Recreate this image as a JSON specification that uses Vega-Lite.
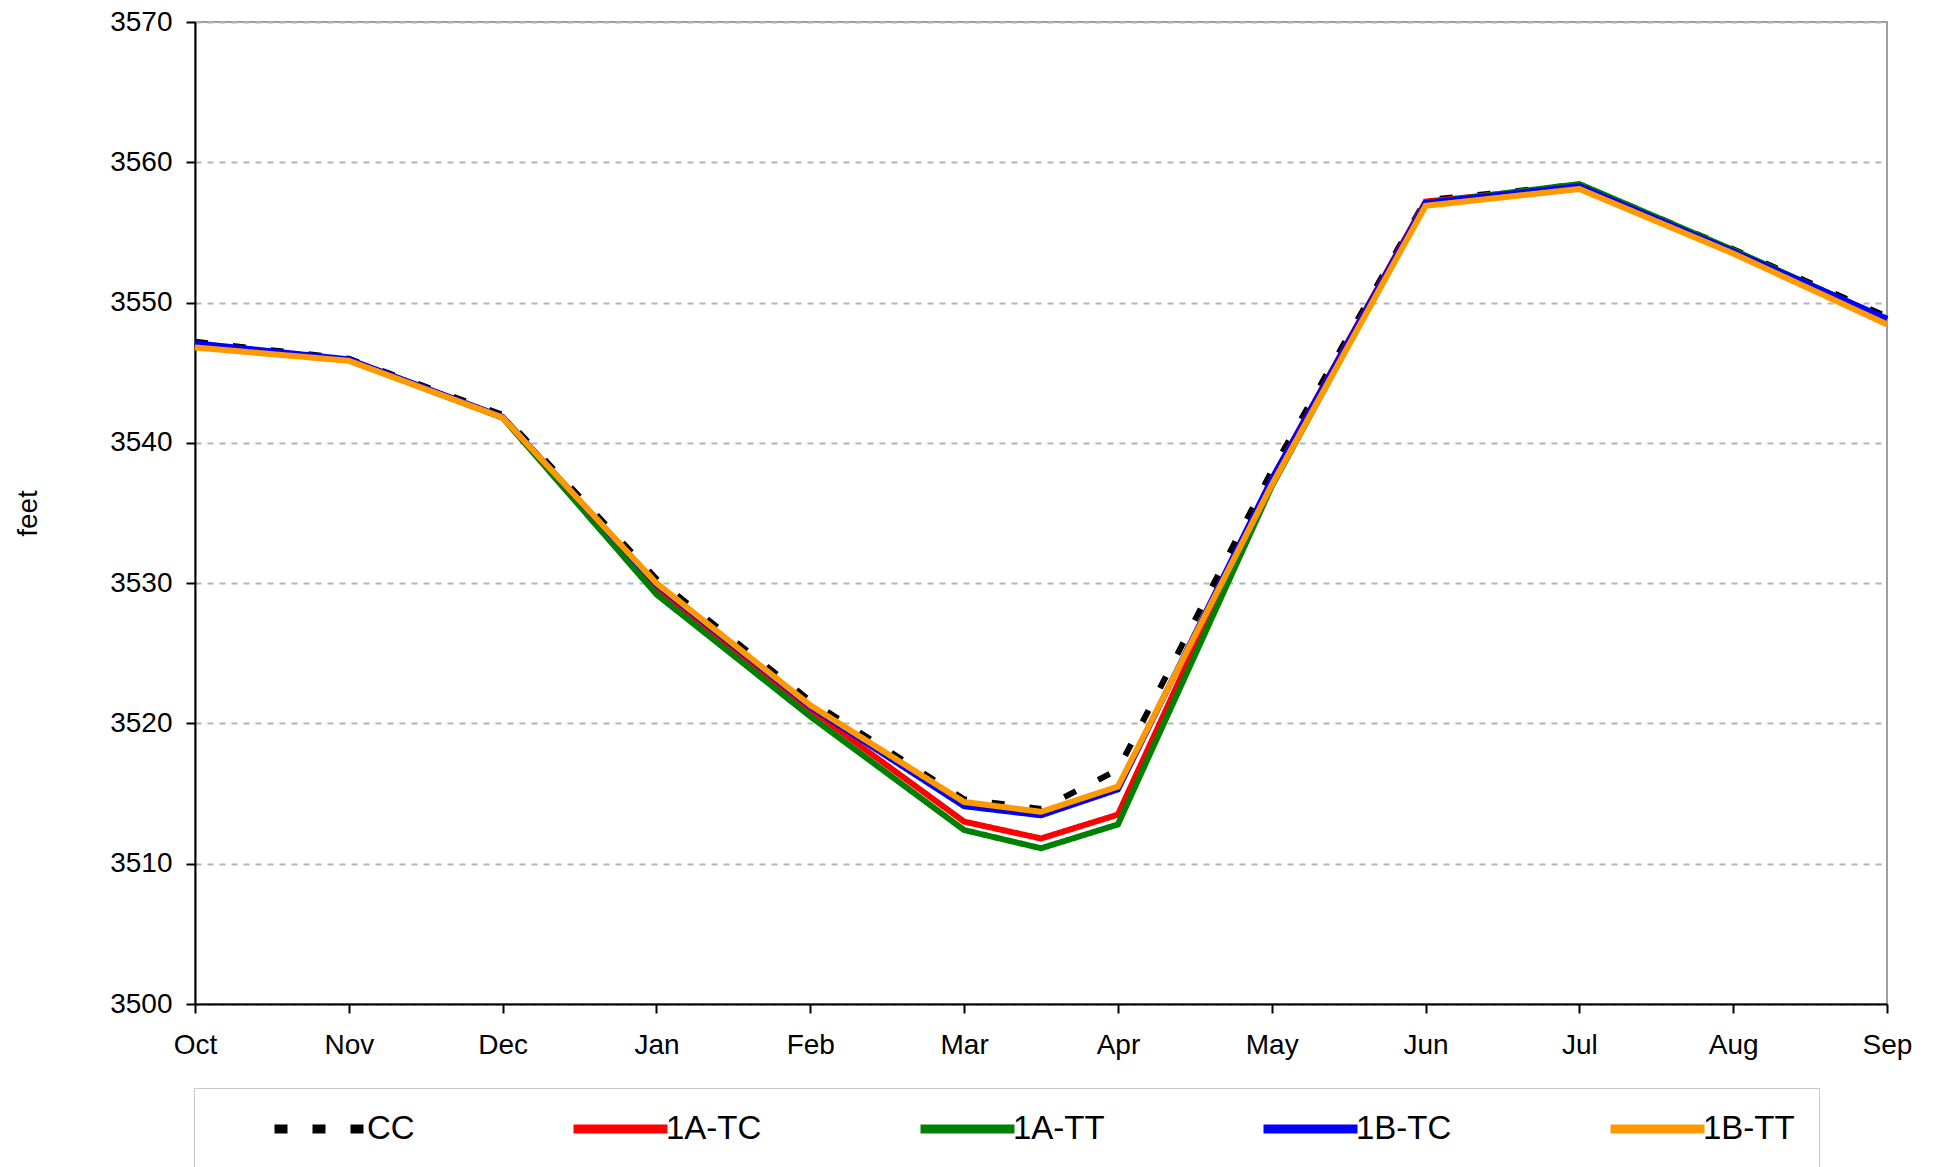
{
  "$schema": "https://vega.github.io/schema/vega-lite/v6.json",
  "width": 1692,
  "height": 982,
  "autosize": {"type": "none"},
  "padding": {"left": 195, "top": 22, "right": 51, "bottom": 163},
  "background": "white",
  "config": {
    "font": "Liberation Sans",
    "view": {"stroke": "#a0a0a0", "strokeWidth": 2}
  },
  "data": {
    "values": [
      {"m": 0, "series": "CC", "feet": 3547.2},
      {"m": 1, "series": "CC", "feet": 3546.0},
      {"m": 2, "series": "CC", "feet": 3542.0},
      {"m": 3, "series": "CC", "feet": 3530.3},
      {"m": 4, "series": "CC", "feet": 3521.6},
      {"m": 5, "series": "CC", "feet": 3514.6},
      {"m": 5.5, "series": "CC", "feet": 3513.9},
      {"m": 6, "series": "CC", "feet": 3516.7},
      {"m": 7, "series": "CC", "feet": 3538.0},
      {"m": 8, "series": "CC", "feet": 3557.3},
      {"m": 9, "series": "CC", "feet": 3558.4},
      {"m": 10, "series": "CC", "feet": 3553.8},
      {"m": 11, "series": "CC", "feet": 3549.0},
      {"m": 0, "series": "1A-TC", "feet": 3546.9},
      {"m": 1, "series": "1A-TC", "feet": 3545.9},
      {"m": 2, "series": "1A-TC", "feet": 3541.8},
      {"m": 3, "series": "1A-TC", "feet": 3529.6},
      {"m": 4, "series": "1A-TC", "feet": 3521.0},
      {"m": 5, "series": "1A-TC", "feet": 3513.0},
      {"m": 5.5, "series": "1A-TC", "feet": 3511.8},
      {"m": 6, "series": "1A-TC", "feet": 3513.5},
      {"m": 7, "series": "1A-TC", "feet": 3537.4},
      {"m": 8, "series": "1A-TC", "feet": 3557.2},
      {"m": 9, "series": "1A-TC", "feet": 3558.3},
      {"m": 10, "series": "1A-TC", "feet": 3553.7},
      {"m": 11, "series": "1A-TC", "feet": 3548.8},
      {"m": 0, "series": "1A-TT", "feet": 3546.9},
      {"m": 1, "series": "1A-TT", "feet": 3545.9},
      {"m": 2, "series": "1A-TT", "feet": 3541.8},
      {"m": 3, "series": "1A-TT", "feet": 3529.2},
      {"m": 4, "series": "1A-TT", "feet": 3520.5},
      {"m": 5, "series": "1A-TT", "feet": 3512.4},
      {"m": 5.5, "series": "1A-TT", "feet": 3511.1},
      {"m": 6, "series": "1A-TT", "feet": 3512.8},
      {"m": 7, "series": "1A-TT", "feet": 3536.9},
      {"m": 8, "series": "1A-TT", "feet": 3557.1},
      {"m": 9, "series": "1A-TT", "feet": 3558.45},
      {"m": 10, "series": "1A-TT", "feet": 3553.75},
      {"m": 11, "series": "1A-TT", "feet": 3548.8},
      {"m": 0, "series": "1B-TC", "feet": 3547.1},
      {"m": 1, "series": "1B-TC", "feet": 3545.95},
      {"m": 2, "series": "1B-TC", "feet": 3541.85},
      {"m": 3, "series": "1B-TC", "feet": 3529.9},
      {"m": 4, "series": "1B-TC", "feet": 3521.2},
      {"m": 5, "series": "1B-TC", "feet": 3514.1},
      {"m": 5.5, "series": "1B-TC", "feet": 3513.45},
      {"m": 6, "series": "1B-TC", "feet": 3515.3},
      {"m": 7, "series": "1B-TC", "feet": 3537.4},
      {"m": 8, "series": "1B-TC", "feet": 3557.1},
      {"m": 9, "series": "1B-TC", "feet": 3558.3},
      {"m": 10, "series": "1B-TC", "feet": 3553.65},
      {"m": 11, "series": "1B-TC", "feet": 3548.85},
      {"m": 0, "series": "1B-TT", "feet": 3546.8},
      {"m": 1, "series": "1B-TT", "feet": 3545.85},
      {"m": 2, "series": "1B-TT", "feet": 3541.8},
      {"m": 3, "series": "1B-TT", "feet": 3530.0},
      {"m": 4, "series": "1B-TT", "feet": 3521.3},
      {"m": 5, "series": "1B-TT", "feet": 3514.4},
      {"m": 5.5, "series": "1B-TT", "feet": 3513.7},
      {"m": 6, "series": "1B-TT", "feet": 3515.5},
      {"m": 7, "series": "1B-TT", "feet": 3537.0},
      {"m": 8, "series": "1B-TT", "feet": 3556.9},
      {"m": 9, "series": "1B-TT", "feet": 3558.1},
      {"m": 10, "series": "1B-TT", "feet": 3553.5},
      {"m": 11, "series": "1B-TT", "feet": 3548.45}
    ]
  },
  "mark": {"type": "line", "strokeWidth": 6, "strokeCap": "butt"},
  "encoding": {
    "x": {
      "field": "m",
      "type": "quantitative",
      "scale": {"domain": [0, 11], "nice": false, "zero": false},
      "axis": {
        "title": null,
        "values": [0, 1, 2, 3, 4, 5, 6, 7, 8, 9, 10, 11],
        "labelExpr": "['Oct','Nov','Dec','Jan','Feb','Mar','Apr','May','Jun','Jul','Aug','Sep'][datum.value]",
        "labelFlush": false,
        "labelOverlap": false,
        "labelFontSize": 28,
        "labelColor": "black",
        "labelPadding": 18,
        "domainColor": "black",
        "domainWidth": 2,
        "tickColor": "black",
        "tickWidth": 2,
        "tickSize": 9,
        "grid": false
      }
    },
    "y": {
      "field": "feet",
      "type": "quantitative",
      "scale": {"domain": [3500, 3570], "nice": false, "zero": false},
      "axis": {
        "title": "feet",
        "titleFontSize": 28,
        "titleFontWeight": "normal",
        "titleColor": "black",
        "titlePadding": 67,
        "values": [3500, 3510, 3520, 3530, 3540, 3550, 3560, 3570],
        "format": "d",
        "labelFontSize": 28,
        "labelColor": "black",
        "labelPadding": 14,
        "domainColor": "black",
        "domainWidth": 2,
        "tickColor": "black",
        "tickWidth": 2,
        "tickSize": 9,
        "grid": true,
        "gridColor": "#b4b4b4",
        "gridWidth": 2,
        "gridDash": [6, 6]
      }
    },
    "color": {
      "field": "series",
      "type": "nominal",
      "sort": ["CC", "1A-TC", "1A-TT", "1B-TC", "1B-TT"],
      "scale": {
        "domain": ["CC", "1A-TC", "1A-TT", "1B-TC", "1B-TT"],
        "range": ["#000000", "#ff0000", "#008000", "#0000ff", "#ff9900"]
      },
      "legend": {
        "title": null,
        "orient": "none",
        "legendX": -1,
        "legendY": 1066,
        "direction": "horizontal",
        "columns": 5,
        "columnPadding": 102,
        "padding": 24,
        "symbolOffset": 52,
        "clipHeight": 34,
        "strokeColor": "#c8c8c8",
        "symbolType": "stroke",
        "symbolSize": 8836,
        "symbolStrokeWidth": 9,
        "labelFontSize": 33,
        "labelColor": "black",
        "labelOffset": -6,
        "labelLimit": 300
      }
    },
    "strokeDash": {
      "field": "series",
      "type": "nominal",
      "sort": ["CC", "1A-TC", "1A-TT", "1B-TC", "1B-TT"],
      "scale": {
        "domain": ["CC", "1A-TC", "1A-TT", "1B-TC", "1B-TT"],
        "range": [[13, 25], [1, 0], [1, 0], [1, 0], [1, 0]]
      },
      "legend": {
        "title": null,
        "orient": "none",
        "legendX": -1,
        "legendY": 1066,
        "direction": "horizontal",
        "columns": 5,
        "columnPadding": 102,
        "padding": 24,
        "symbolOffset": 52,
        "clipHeight": 34,
        "strokeColor": "#c8c8c8",
        "symbolType": "stroke",
        "symbolSize": 8836,
        "symbolStrokeWidth": 9,
        "labelFontSize": 33,
        "labelColor": "black",
        "labelOffset": -6,
        "labelLimit": 300
      }
    }
  }
}
